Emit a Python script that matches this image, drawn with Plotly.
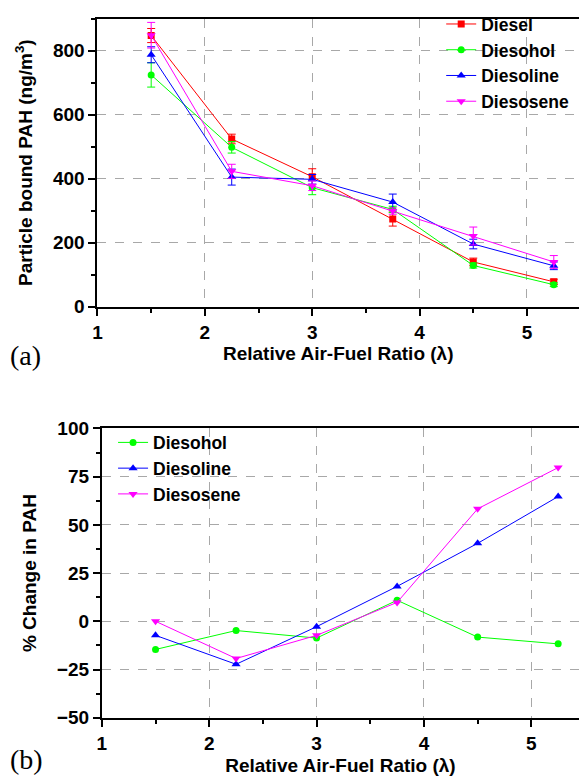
import plotly.graph_objects as go

# Relative air-fuel ratio (lambda) test points
lam = [1.5, 2.25, 3.0, 3.75, 4.5, 5.25]

# Particle bound PAH (ng/m^3) and +/- error
diesel = [847, 524, 406, 274, 140, 78]
diesel_err = [22, 15, 25, 22, 12, 8]
diesohol = [724, 498, 372, 304, 129, 69]
diesohol_err = [38, 18, 22, 10, 8, 6]
diesoline = [787, 405, 398, 327, 196, 128]
diesoline_err = [25, 25, 15, 25, 15, 12]
diesosene = [848, 423, 378, 299, 221, 140]
diesosene_err = [40, 22, 15, 10, 28, 20]

# % change in PAH relative to diesel
chg_diesohol = [-14.6, -4.8, -8.7, 10.9, -8.2, -11.7]
chg_diesoline = [-7.3, -22.3, -2.8, 18.1, 40.4, 64.7]
chg_diesosene = [0.0, -19.3, -7.3, 9.8, 58.3, 79.7]

RED, GREEN, BLUE, MAGENTA = "#ff0000", "#00ff00", "#0000ff", "#ff00ff"
W, H = 579, 780


def bold(size):
    return dict(family="Liberation Sans", size=size, color="black", weight="bold")


fig = go.Figure()


def add_series(x, y, err, name, color, symbol, size, xa, ya, legend):
    kw = {}
    if err is not None:
        kw["error_y"] = dict(type="data", array=err, color=color, thickness=1, width=4)
    fig.add_trace(go.Scatter(
        x=x, y=y, name=name, mode="lines+markers",
        line=dict(color=color, width=1),
        marker=dict(symbol=symbol, size=size, color=color),
        xaxis=xa, yaxis=ya, legend=legend, **kw))


add_series(lam, diesel, diesel_err, "Diesel", RED, "square", 7, "x", "y", "legend")
add_series(lam, diesohol, diesohol_err, "Diesohol", GREEN, "circle", 7, "x", "y", "legend")
add_series(lam, diesoline, diesoline_err, "Diesoline", BLUE, "triangle-up", 8, "x", "y", "legend")
add_series(lam, diesosene, diesosene_err, "Diesosene", MAGENTA, "triangle-down", 8, "x", "y", "legend")

add_series(lam, chg_diesohol, None, "Diesohol", GREEN, "circle", 7, "x2", "y2", "legend2")
add_series(lam, chg_diesoline, None, "Diesoline", BLUE, "triangle-up", 8, "x2", "y2", "legend2")
add_series(lam, chg_diesosene, None, "Diesosene", MAGENTA, "triangle-down", 8, "x2", "y2", "legend2")


def px_x(p):
    return p / W


def px_y(p):
    return 1 - p / H


common_axis = dict(
    showline=True, linecolor="black", linewidth=2,
    ticks="outside", ticklen=7, tickwidth=2, tickcolor="black",
    showgrid=True, gridcolor="#a8a8a8", griddash="dash", gridwidth=1,
    zeroline=False, tickfont=bold(19),
)

minor_x = dict(dtick=0.5, ticklen=4, tickwidth=1.5, tickcolor="black", showgrid=False)

fig.update_layout(
    width=W, height=H,
    margin=dict(l=0, r=0, t=0, b=0),
    paper_bgcolor="white", plot_bgcolor="white",
    xaxis=dict(common_axis, domain=[px_x(93.3), 1], range=[1, 1 + (W - 93.3) / 108.3],
               dtick=1, tick0=1, mirror=True, anchor="y", minor=minor_x,
               title=dict(text="Relative Air-Fuel Ratio (λ)", font=bold(19), standoff=2)),
    yaxis=dict(common_axis, domain=[px_y(305), px_y(8.8)], range=[0, 900],
               dtick=200, tick0=0, anchor="x",
               minor=dict(dtick=100, ticklen=4, tickwidth=1.5, tickcolor="black", showgrid=False),
               title=dict(text="Particle bound PAH (ng/m<sup>3</sup>)", font=bold(19))),
    xaxis2=dict(common_axis, domain=[px_x(97.7), 1], range=[1, 1 + (W - 97.7) / 108.3],
                dtick=1, tick0=1, mirror=True, anchor="y2", minor=minor_x,
                title=dict(text="Relative Air-Fuel Ratio (λ)", font=bold(19), standoff=6)),
    yaxis2=dict(common_axis, domain=[px_y(727.3), px_y(430)], range=[-50, 100],
                dtick=25, tick0=0, anchor="x2",
                minor=dict(dtick=12.5, ticklen=4, tickwidth=1.5, tickcolor="black", showgrid=False),
                title=dict(text="% Change in PAH", font=bold(19))),
    legend=dict(x=px_x(440), y=px_y(-4), xanchor="left", yanchor="top",
                bgcolor="rgba(0,0,0,0)", font=bold(17.5)),
    legend2=dict(x=px_x(109), y=px_y(426), xanchor="left", yanchor="top",
                 bgcolor="rgba(0,0,0,0)", font=bold(17.5)),
    showlegend=True,
)

for label, ypix in (("(a)", 355), ("(b)", 770)):
    fig.add_annotation(text=label, xref="paper", yref="paper",
                       x=px_x(3), y=px_y(ypix), xanchor="left", yanchor="middle",
                       showarrow=False,
                       font=dict(family="Liberation Serif", size=28, color="black"))

fig.write_html("out.html")
